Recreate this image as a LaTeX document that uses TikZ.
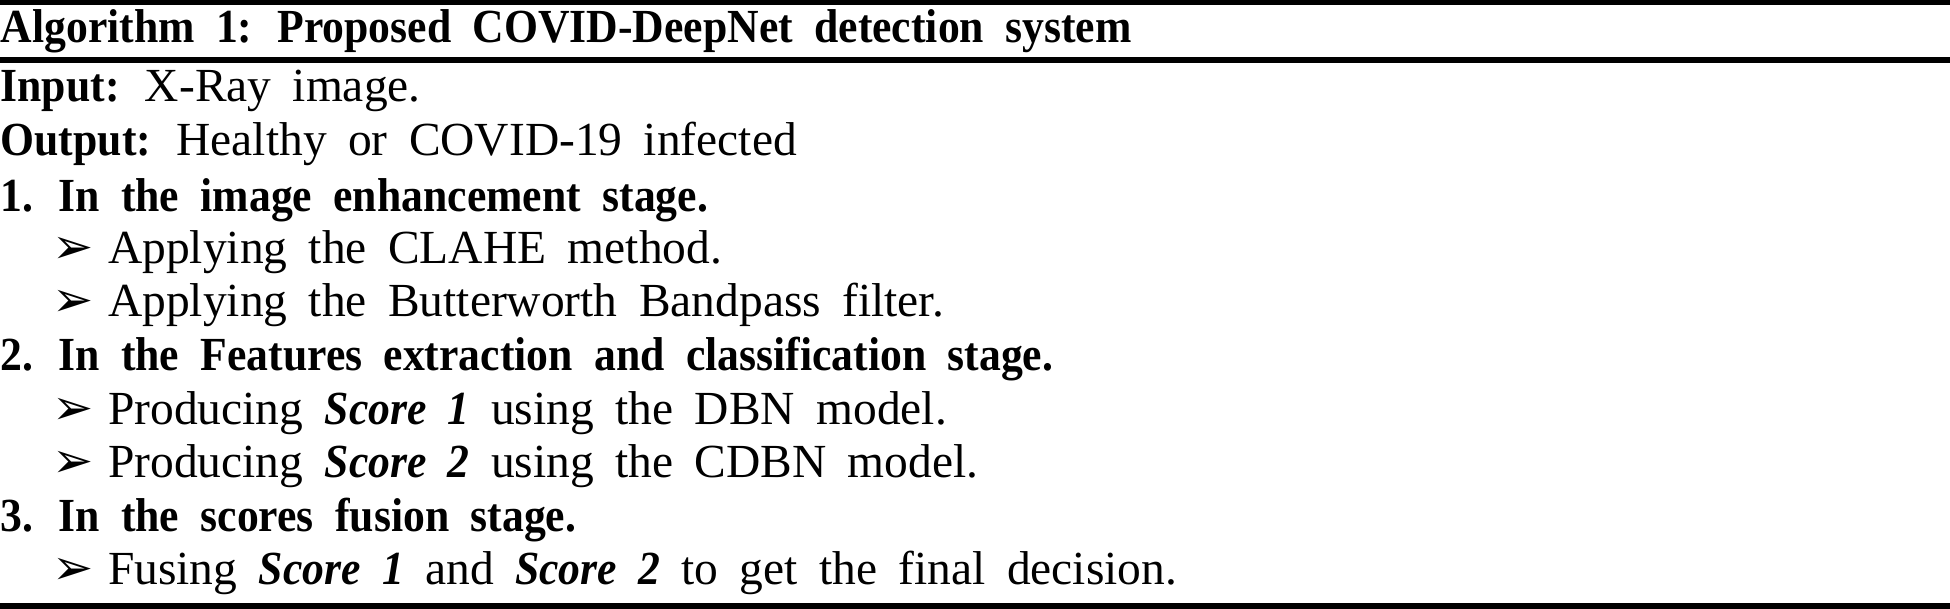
\documentclass[tikz,border=0pt]{standalone}
\usepackage{fontspec}
\setmainfont{Liberation Serif}[BoldFeatures={FakeStretch=0.92},BoldItalicFeatures={FakeStretch=0.92}]
\newfontfamily\arrfont{DejaVu Sans}
\newcommand{\wideskip}{\spaceskip=0.45em plus 0.1em\relax}
\begin{document}
\begin{tikzpicture}[x=0.01cm,y=-0.01cm,
  txt/.style={anchor=west,inner sep=0pt,font=\fontsize{13.5}{16}\selectfont\wideskip},
  rl/.style={line width=1.6pt}]
\useasboundingbox (0,0) rectangle (1950,609);
\coordinate (tl) at (0,2); \coordinate (tr) at (1950,2);
\coordinate (ml) at (0,60); \coordinate (mr) at (1950,60);
\coordinate (bl) at (0,606); \coordinate (br) at (1950,606);
\draw[rl] (tl) -- (tr);
\draw[rl] (ml) -- (mr);
\draw[rl] (bl) -- (br);
\newcommand{\arr}{{\arrfont\fontsize{14}{14}\selectfont ➢}\hspace{0.3em}}
\node[txt] (h) at (0,31) {\textbf{Algorithm 1: Proposed COVID-DeepNet detection system}};
\node[txt] (i) at (0,91) {\textbf{Input:} X-Ray image.};
\node[txt] (o) at (0,144) {\textbf{Output:} Healthy or COVID-19 infected};
\node[txt] (s1) at (0,200) {\textbf{1. In the image enhancement stage.}};
\node[txt] (a1) at (52,252) {\arr Applying the CLAHE method.};
\node[txt] (a2) at (52,305) {\arr Applying the Butterworth Bandpass filter.};
\node[txt] (s2) at (0,359) {\textbf{2. In the Features extraction and classification stage.}};
\node[txt] (b1) at (52,413) {\arr Producing \textbf{\textit{Score 1}} using the DBN model.};
\node[txt] (b2) at (52,466) {\arr Producing \textbf{\textit{Score 2}} using the CDBN model.};
\node[txt] (s3) at (0,520) {\textbf{3. In the scores fusion stage.}};
\node[txt] (c1) at (52,573) {\arr Fusing \textbf{\textit{Score 1}} and \textbf{\textit{Score 2}} to get the final decision.};
\end{tikzpicture}
\end{document}
